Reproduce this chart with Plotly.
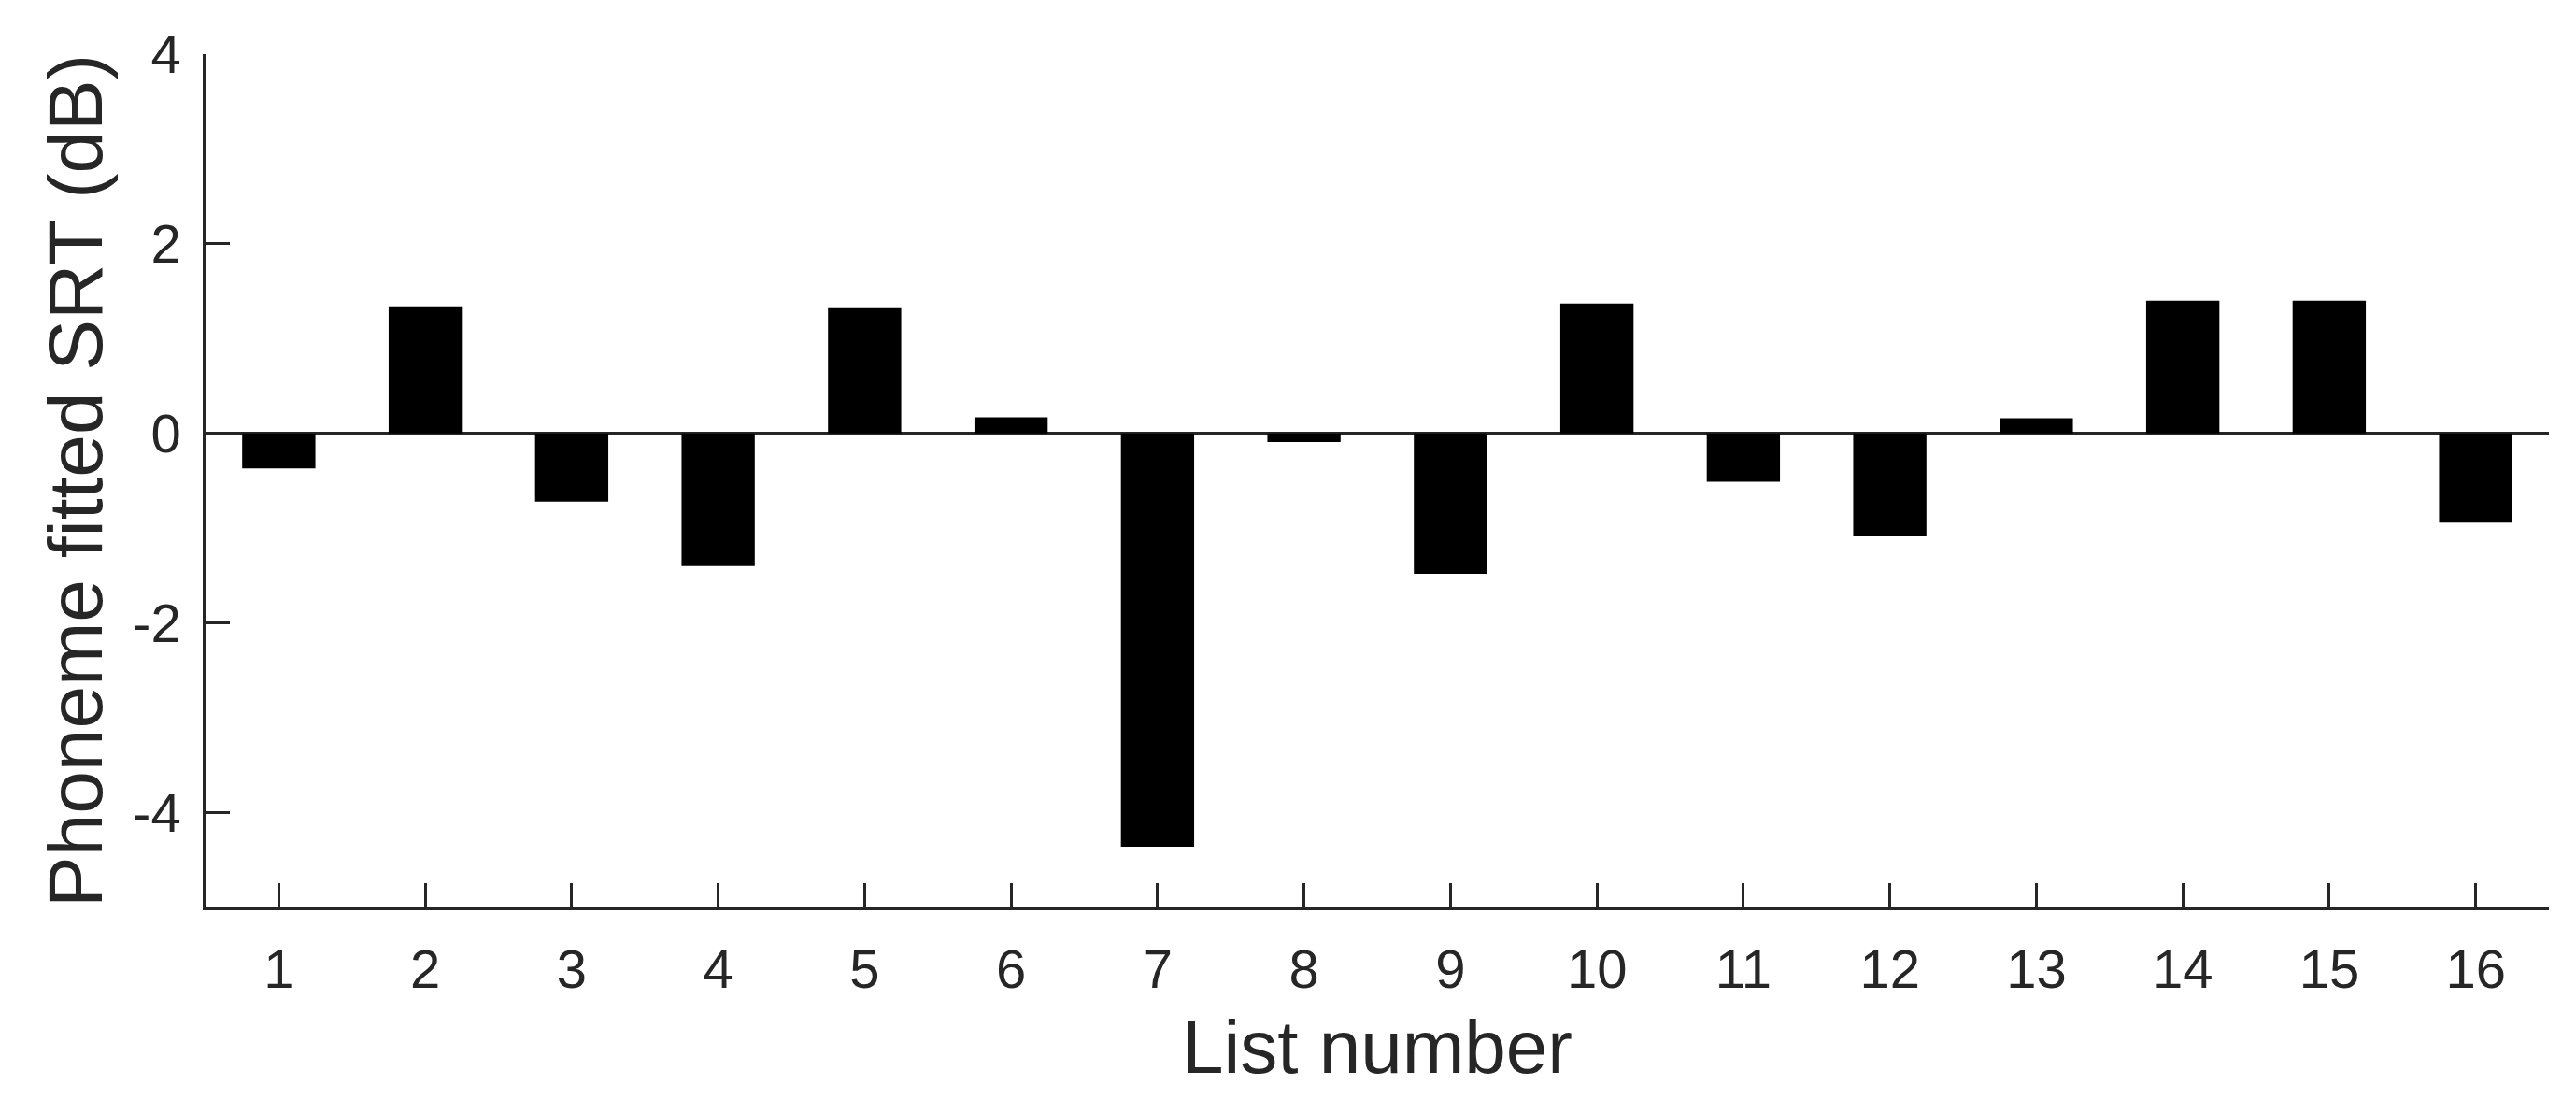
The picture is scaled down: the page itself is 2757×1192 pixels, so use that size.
import plotly.graph_objects as go

list_numbers = list(range(1, 17))
srt_values = [-0.37, 1.34, -0.72, -1.40, 1.32, 0.17, -4.36, -0.09,
              -1.48, 1.37, -0.51, -1.08, 0.16, 1.40, 1.40, -0.94]
y_ticks = [-4, -2, 0, 2, 4]
y_tick_labels = ["-4", "-2", "0", "2", "4"]

AX = "#262626"
FONT = "Liberation Sans, Arial, Helvetica, sans-serif"

fig = go.Figure(
    go.Bar(
        x=list_numbers,
        y=srt_values,
        width=0.5,
        marker=dict(color="black", line=dict(width=0)),
    )
)

# page body has an 8px default margin, so the figure is sized to fit inside it
fig.update_layout(
    width=2749,
    height=1184,
    margin=dict(l=212, r=29, t=50, b=221),
    paper_bgcolor="white",
    plot_bgcolor="white",
    showlegend=False,
    font=dict(family=FONT, color=AX, size=58),
)

fig.update_xaxes(
    range=[0.5, 16.5],
    tickvals=list_numbers,
    ticktext=[str(v) for v in list_numbers],
    showline=True,
    linecolor=AX,
    linewidth=2.5,
    ticks="inside",
    ticklen=26,
    tickwidth=2.5,
    tickcolor=AX,
    showgrid=False,
    zeroline=False,
    ticklabelstandoff=14,
    tickfont=dict(size=58, family=FONT, color=AX),
    title=dict(text="List number", font=dict(size=80, family=FONT, color=AX), standoff=24),
)

fig.update_yaxes(
    range=[-5, 4],
    tickvals=y_ticks,
    ticktext=y_tick_labels,
    showline=True,
    linecolor=AX,
    linewidth=2.5,
    ticks="inside",
    ticklen=26,
    tickwidth=2.5,
    tickcolor=AX,
    showgrid=False,
    zeroline=True,
    zerolinecolor=AX,
    zerolinewidth=2.5,
    ticklabelstandoff=12,
    tickfont=dict(size=58, family=FONT, color=AX),
    title=dict(text="Phoneme fitted SRT (dB)", font=dict(size=82, family=FONT, color=AX), standoff=6),
)

fig.write_html("out.html")
